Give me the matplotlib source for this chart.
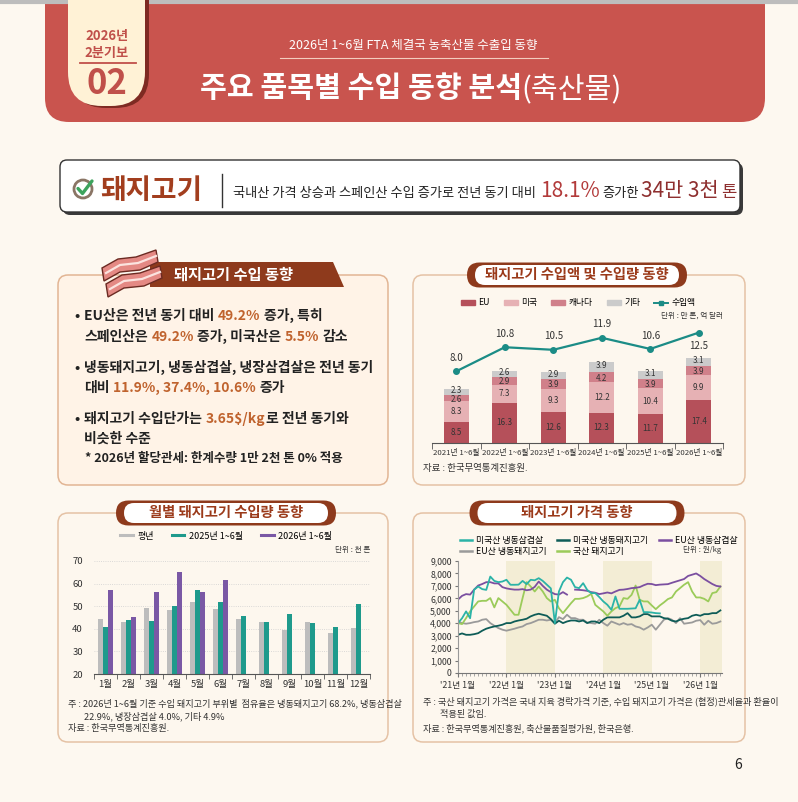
import matplotlib

matplotlib.use("Agg")

import matplotlib.pyplot as plt  # noqa: E402
import numpy as np  # noqa: E402
from matplotlib.lines import Line2D  # noqa: E402
from matplotlib.patches import Circle, FancyBboxPatch, Patch, Polygon  # noqa: E402

plt.rcParams["font.family"] = ["Noto Sans CJK KR", "DejaVu Sans"]

# ---------------------------------------------------------------------------
# Data
# ---------------------------------------------------------------------------
PERIODS = ["2021년 1~6월", "2022년 1~6월", "2023년 1~6월",
           "2024년 1~6월", "2025년 1~6월", "2026년 1~6월"]
VOL_EU = [8.5, 16.3, 12.6, 12.3, 11.7, 17.4]
VOL_US = [8.3, 7.3, 9.3, 12.2, 10.4, 9.9]
VOL_CANADA = [2.6, 2.9, 3.9, 4.2, 3.9, 3.9]
VOL_OTHER = [2.3, 2.6, 2.9, 3.9, 3.1, 3.1]
IMPORT_VALUE = [8.0, 10.8, 10.5, 11.9, 10.6, 12.5]

MONTHS = ["1월", "2월", "3월", "4월", "5월", "6월",
          "7월", "8월", "9월", "10월", "11월", "12월"]
MONTHLY_NORMAL = [44.5, 43.2, 49.3, 48.5, 52.0, 48.6, 44.4, 42.8, 39.4, 42.8, 38.0, 40.3]
MONTHLY_2025 = [41.0, 44.0, 43.5, 50.3, 57.3, 52.0, 45.6, 43.0, 46.5, 42.5, 40.7, 51.0]
MONTHLY_2026 = [57.0, 45.0, 56.5, 65.0, 56.5, 61.5]

PRICE_YEAR_LABELS = ["'21년 1월", "'22년 1월", "'23년 1월", "'24년 1월", "'25년 1월", "'26년 1월"]
NAN = np.nan
# monthly prices, Jan 2021 .. Jun 2026 (won/kg)
PRICE_US_BELLY = [
    4010, 4400, 4950, 4400, 6700, 6950, 6740, 6680, 7750, 7400, 7300, 7350,
    7490, 7090, 7090, 7100, 7400, 7140, 7490, 7450, 7620, 7400, 7100, 6800,
    4000, 6550, 7300, 7670, 7490, 6900, 6820, 7220, 6680, 6420, 6420, 6100,
    5750, 5480, 5080, 6150, 5160, 5160, 5160, 5180, 5200, 5880, 4890, 4890,
    4860, 4810, 4790, NAN, NAN, NAN, NAN, NAN, NAN, NAN, NAN, NAN,
    NAN, NAN, NAN, NAN, NAN, NAN,
]
PRICE_US_PORK = [
    3070, 3180, 3070, 3070, 3120, 3200, 3400, 3560, 3660, 3740, 3800, 3880,
    4010, 4010, 4140, 4220, 4280, 4360, 4550, 4680, 4760, 4680, 4600, 4330,
    3960, 4200, 4010, 4140, 4220, 4220, 4140, 4220, 4010, 4140, 4140, 4010,
    4280, 4470, 4470, 4470, 4470, 4600, 4810, 4470, 4470, 4550, 4730, 4730,
    4550, 4550, 4550, 4410, 4360, 4200, 4140, 4280, 4360, 4410, 4600, 4680,
    4600, 4730, 4730, 4810, 4810, 5030,
]
PRICE_EU_BELLY = [
    5900, 6200, 6340, 6300, 6700, 7030, 7150, 7300, 7300, 7200, 7200, 6900,
    6800, 6740, 6700, 6700, 6740, 6650, 6700, 6920, 7350, 7000, 6700, 6500,
    6340, 6300, 6500, 6300, NAN, 6700, 6680, 6650, 6600, 6500, 6450, 6340,
    6400, 6470, 6400, 6550, 6680, 6700, 6750, 6820, 6850, 6900, 7050, 7170,
    7150, 7060, 7100, 7120, 7140, 7250, 7350, 7450, 7550, 7800, 7900, 8000,
    7800, 7550, 7350, 7150, 7000, 6950,
]
PRICE_EU_PORK = [
    4140, 4010, 3960, 4010, 4090, 4140, 4280, 4330, 4010, 3800, 3610, 3480,
    3400, 3480, 3560, 3660, 3740, 3930, 4010, 4140, 4280, 4280, 4220, 4280,
    4010, 4490, 4330, 4680, 4410, 4410, 4280, 4280, 4060, 4010, 3960, 4280,
    4010, 3800, 4140, 4010, 3880, 4010, 3880, 3930, 3740, 3660, 3480, 3660,
    3880, 3480, 3880, 4280, 4410, 4280, 4010, 4410, 3960, 4010, 4060, 4200,
    4250, 3880, 4200, 3960, 4010, 4140,
]
PRICE_DOMESTIC = [
    4010, 3930, 4410, 4950, 5350, 5750, 5800, 5800, 6020, 5270, 6020, 5750,
    5480, 5080, 4680, 4680, 6020, 7300, 6950, 6550, 6950, 6550, 6020, 5750,
    5880, 5210, 4810, 5210, 5610, 5960, 5960, 6020, 6150, 6360, 5480, 5210,
    4950, 4600, 4950, 5210, 5350, 6020, 5960, 6280, 7030, 5880, 5750, 5750,
    5430, 5130, 5430, 5670, 5940, 6070, 6550, 6820, 7090, 7300, 6550, 6070,
    6070, 5960, 5750, 6420, 6500, 6950,
]

# ---------------------------------------------------------------------------
# Style
# ---------------------------------------------------------------------------
W, H = 798, 802
PAGE_BG = "#FDF8F0"
HEADER_RED = "#C9544E"
BROWN = "#8E3A1C"
TITLE_BROWN = "#9B3A1A"
HIGHLIGHT = "#C0632E"
DARK = "#222222"
TICK = "#333333"

COL_EU = "#B5505A"
COL_US = "#E6B1B4"
COL_CA = "#D0808A"
COL_OTHER = "#CBCBCB"
COL_VALUE = "#1B8C86"

COL_NORMAL = "#BDBDBD"
COL_2025 = "#1E9A8C"
COL_2026 = "#7A58A5"

COL_US_BELLY = "#2BB3A7"
COL_US_PORK = "#0E5C57"
COL_EU_BELLY = "#7B4FA0"
COL_EU_PORK = "#9A9A9A"
COL_DOMESTIC = "#9BCB5A"
BAND = "#F3EDD5"


def px_axes(fig, left, top, right, bottom):
    ax = fig.add_axes([left / W, 1 - bottom / H, (right - left) / W, (bottom - top) / H])
    ax.set_facecolor("none")
    return ax


def draw_runs(ax, x, y, runs, renderer, ha="left", va="baseline"):
    texts = []
    cursor = x
    last_gap = 0
    for text, gap, style in runs:
        t = ax.text(cursor, y, text, ha="left", va=va, **style)
        width = t.get_window_extent(renderer=renderer).width
        texts.append(t)
        cursor += width + gap
        last_gap = gap
    if ha == "center":
        shift = (cursor - last_gap - x) / 2
        for t in texts:
            tx, ty = t.get_position()
            t.set_position((tx - shift, ty))
    return cursor


def panel(ax, x, y, w, h, fc, ec):
    ax.add_patch(FancyBboxPatch((x, y), w, h, boxstyle="round,pad=0,rounding_size=10",
                                fc=fc, ec=ec, lw=1.1, zorder=1))


def pill_title(ax, cx, cy, w, text):
    ax.add_patch(FancyBboxPatch((cx - w / 2 - 4, cy - 12.5), w + 8, 25,
                                boxstyle="round,pad=0,rounding_size=12.5",
                                fc=BROWN, ec="none", zorder=3))
    ax.add_patch(FancyBboxPatch((cx - w / 2 + 4, cy - 10), w - 8, 20,
                                boxstyle="round,pad=0,rounding_size=10",
                                fc="white", ec="none", zorder=4))
    ax.text(cx, cy, text, ha="center", va="center", fontsize=10.3,
            fontweight="bold", color=TITLE_BROWN, zorder=5)


def main():
    fig = plt.figure(figsize=(W / 100, H / 100), dpi=100)
    fig.patch.set_facecolor(PAGE_BG)
    renderer = fig.canvas.get_renderer()

    bg = fig.add_axes([0, 0, 1, 1])
    bg.set_xlim(0, W)
    bg.set_ylim(H, 0)
    bg.axis("off")

    # --- header ---------------------------------------------------------------
    bg.add_patch(FancyBboxPatch((45, -40), 720, 162, boxstyle="round,pad=0,rounding_size=24",
                                fc=HEADER_RED, ec="none", zorder=1))
    bg.plot([0, W], [1.5, 1.5], color="#BDBDBD", lw=3, zorder=2)
    bg.add_patch(FancyBboxPatch((72, -40), 77, 148, boxstyle="round,pad=0,rounding_size=34",
                                fc="#7E2A22", ec="none", zorder=2))
    bg.add_patch(FancyBboxPatch((68, -40), 77, 146, boxstyle="round,pad=0,rounding_size=34",
                                fc="#FFF2D6", ec="none", zorder=3))
    bg.text(107, 36, "2026년", ha="center", va="center", fontsize=9.5,
            fontweight="bold", color="#C0504A", zorder=4)
    bg.text(107, 53, "2분기보", ha="center", va="center", fontsize=9.5,
            fontweight="bold", color="#C0504A", zorder=4)
    bg.plot([80, 136], [63, 63], color="#C0504A", lw=1.3, zorder=4)
    bg.text(107, 84, "02", ha="center", va="center", fontsize=25,
            fontweight="bold", color="#C0504A", zorder=4)

    bg.text(413, 45, "2026년 1~6월 FTA 체결국 농축산물 수출입 동향", ha="center",
            va="center", fontsize=9, color="white", zorder=4)
    bg.plot([280, 548], [58, 58], color="#F4CDBE", lw=0.8, zorder=4)
    draw_runs(bg, 411, 97, [
        ("주요 품목별 수입 동향 분석", 0,
         dict(fontsize=21, fontweight="bold", color="white", zorder=4)),
        ("(축산물)", 0, dict(fontsize=21, color="white", zorder=4)),
    ], renderer, ha="center")

    # --- headline box -----------------------------------------------------------
    bg.add_patch(FancyBboxPatch((63, 163), 680, 52, boxstyle="round,pad=0,rounding_size=7",
                                fc="#3A3A3A", ec="none", zorder=1))
    bg.add_patch(FancyBboxPatch((60, 160), 680, 52, boxstyle="round,pad=0,rounding_size=7",
                                fc="white", ec="#333333", lw=1, zorder=2))
    bg.add_patch(Circle((83, 189), 9, fill=False, ec="#8A7565", lw=2, zorder=3))
    bg.plot([78, 82.5, 92], [188.5, 193.5, 181], color="#3DA35D", lw=2.4,
            solid_capstyle="round", zorder=4)
    bg.text(100, 199, "돼지고기", ha="left", va="baseline", fontsize=20,
            fontweight="bold", color="#A23E1E", zorder=4)
    bg.plot([222, 222], [174, 207], color="#333333", lw=1, zorder=4)
    plain = dict(fontsize=9.5, color=DARK, zorder=4)
    draw_runs(bg, 233, 197, [
        ("국내산 가격 상승과 스페인산 수입 증가로 전년 동기 대비", 4, plain),
        ("18.1%", 3, dict(fontsize=15, color="#B23A3A", zorder=4)),
        ("증가한", 2, plain),
        ("34만 3천", 3, dict(fontsize=15, color="#8E2F2F", zorder=4)),
        ("톤", 0, dict(fontsize=12, color="#8E2F2F", zorder=4)),
    ], renderer)

    # --- panels ---------------------------------------------------------------
    panel(bg, 58, 275, 330, 210, "#FFF3E7", "#E2B594")
    panel(bg, 413, 275, 332, 210, "#FDF7EE", "#E5C2A5")
    panel(bg, 58, 513, 330, 229, "#FDF7EE", "#E5C2A5")
    panel(bg, 413, 513, 332, 229, "#FDF7EE", "#E5C2A5")

    # left panel ribbon + bacon icon
    bg.add_patch(Polygon([(150, 262), (333, 262), (344, 287), (150, 287)],
                         closed=True, fc=BROWN, ec="none", zorder=3))
    bg.text(234, 275, "돼지고기 수입 동향", ha="center", va="center", fontsize=11,
            fontweight="bold", color="white", zorder=5)
    for dx, dy in [(4, 16), (0, 0)]:
        bg.add_patch(Polygon([(102 + dx, 268 + dy), (118 + dx, 259 + dy), (136 + dx, 257 + dy),
                              (156 + dx, 250 + dy), (158 + dx, 262 + dy), (140 + dx, 270 + dy),
                              (120 + dx, 272 + dy), (104 + dx, 281 + dy)],
                             closed=True, fc="#E48984", ec="#6B2A22", lw=1, zorder=4))
        bg.plot([106 + dx, 120 + dx, 138 + dx, 156 + dx],
                [273 + dy, 265 + dy, 263 + dy, 256 + dy], color="#FBE3DF", lw=1.6, zorder=5)

    dark = dict(fontsize=10, fontweight="bold", color=DARK, zorder=5)
    hl = dict(fontsize=10, fontweight="bold", color=HIGHLIGHT, zorder=5)
    bullet_lines = [
        (320, True, [("EU산은 전년 동기 대비", 3.5, dark), ("49.2%", 3.5, hl), ("증가, 특히", 0, dark)]),
        (341, False, [("스페인산은", 3.5, dark), ("49.2%", 3.5, hl), ("증가, 미국산은", 3.5, dark),
                      ("5.5%", 3.5, hl), ("감소", 0, dark)]),
        (372, True, [("냉동돼지고기, 냉동삼겹살, 냉장삼겹살은 전년 동기", 0, dark)]),
        (392, False, [("대비", 3.5, dark), ("11.9%, 37.4%, 10.6%", 3.5, hl), ("증가", 0, dark)]),
        (423, True, [("돼지고기 수입단가는", 3.5, dark), ("3.65$/kg", 0.5, hl), ("로 전년 동기와", 0, dark)]),
        (443, False, [("비슷한 수준", 0, dark)]),
    ]
    for y, has_bullet, runs in bullet_lines:
        if has_bullet:
            bg.text(77, y, "•", ha="center", va="baseline", fontsize=10,
                    fontweight="bold", color=DARK, zorder=5)
        draw_runs(bg, 84, y, runs, renderer)
    bg.text(85, 462, "* 2026년 할당관세: 한계수량 1만 2천 톤 0% 적용", ha="left",
            va="baseline", fontsize=9, fontweight="bold", color=DARK, zorder=5)

    pill_title(bg, 577, 275, 212, "돼지고기 수입액 및 수입량 동향")
    pill_title(bg, 226, 513, 212, "월별 돼지고기 수입량 동향")
    pill_title(bg, 577, 513, 207, "돼지고기 가격 동향")

    # --- chart 1: stacked volume + import value ---------------------------------
    ax1 = px_axes(fig, 432, 318, 723, 443)
    x = np.arange(len(PERIODS))
    bottom = np.zeros(len(PERIODS))
    # small nudge keeps the two thin top labels apart
    for vals, color, nudge in [(VOL_EU, COL_EU, 0), (VOL_US, COL_US, 0),
                               (VOL_CANADA, COL_CA, -0.4), (VOL_OTHER, COL_OTHER, 0.55)]:
        vals = np.array(vals)
        ax1.bar(x, vals, 0.52, bottom=bottom, color=color, zorder=2)
        for xi, v, b in zip(x, vals, bottom):
            ax1.text(xi, b + v / 2 + nudge, f"{v:.1f}", ha="center", va="center",
                     fontsize=5.8, color=TICK, zorder=3)
        bottom += vals
    ax1.set_xlim(-0.5, len(PERIODS) - 0.5)
    ax1.set_ylim(0, 50.5)
    ax1.set_xticks(x)
    ax1.set_xticklabels(PERIODS, fontsize=5.6, color=TICK)
    ax1.set_xticks(np.arange(-0.5, len(PERIODS)), minor=True)
    ax1.tick_params(axis="x", which="major", length=0, pad=4)
    ax1.tick_params(axis="x", which="minor", length=4, color="#555555")
    ax1.set_yticks([])
    for side in ["left", "right", "top"]:
        ax1.spines[side].set_visible(False)
    ax1.spines["bottom"].set_color("#555555")

    ax1b = ax1.twinx()
    ax1b.plot(x, IMPORT_VALUE, color=COL_VALUE, lw=1.6, marker="o", ms=4, zorder=4)
    for i, v in enumerate(IMPORT_VALUE):
        below = i == len(IMPORT_VALUE) - 1
        ax1b.annotate(f"{v:.1f}", (x[i], v), xytext=(0, -6 if below else 6),
                      textcoords="offset points", ha="center",
                      va="top" if below else "bottom", fontsize=7, color=TICK)
    ax1b.set_ylim(-0.34, 14.2)
    ax1b.set_yticks([])
    for side in ["left", "right", "top", "bottom"]:
        ax1b.spines[side].set_visible(False)

    handles1 = [Patch(color=COL_EU), Patch(color=COL_US), Patch(color=COL_CA),
                Patch(color=COL_OTHER),
                Line2D([], [], color=COL_VALUE, lw=1.4, marker="s", ms=3.5)]
    fig.legend(handles1, ["EU", "미국", "캐나다", "기타", "수입액"], loc="center",
               bbox_to_anchor=(578 / W, 1 - 303 / H), ncol=5, frameon=False,
               fontsize=6.3, handlelength=1.6, handleheight=0.5, columnspacing=1.6,
               handletextpad=0.4)
    bg.text(723, 316, "단위 : 만 톤, 억 달러", ha="right", va="center", fontsize=5.5,
            color=TICK, zorder=5)
    bg.text(423, 469, "자료 : 한국무역통계진흥원.", ha="left", va="center", fontsize=6.8,
            color=TICK, zorder=5)

    # --- chart 2: monthly volume ------------------------------------------------
    ax2 = px_axes(fig, 94, 561, 370, 674)
    xm = np.arange(len(MONTHS))
    bw = 0.23
    ax2.bar(xm - bw, MONTHLY_NORMAL, bw, color=COL_NORMAL, zorder=2)
    ax2.bar(xm, MONTHLY_2025, bw, color=COL_2025, zorder=2)
    ax2.bar(xm[:len(MONTHLY_2026)] + bw, MONTHLY_2026, bw, color=COL_2026, zorder=2)
    ax2.set_xlim(-0.5, len(MONTHS) - 0.5)
    ax2.set_ylim(20, 70)
    ax2.set_yticks(range(20, 71, 10))
    ax2.set_xticks(xm)
    ax2.set_xticklabels(MONTHS, fontsize=6.8, color=TICK)
    ax2.set_xticks(np.arange(-0.5, len(MONTHS)), minor=True)
    ax2.tick_params(axis="x", which="major", length=0, pad=4)
    ax2.tick_params(axis="x", which="minor", length=3.5, color="#555555")
    ax2.tick_params(axis="y", length=0, labelsize=6.8, labelcolor=TICK, pad=8)
    ax2.yaxis.grid(True, linestyle=":", color="#CFCFCF", lw=0.6, zorder=0)
    for side in ["left", "right", "top"]:
        ax2.spines[side].set_visible(False)
    ax2.spines["bottom"].set_color("#555555")

    handles2 = [Line2D([], [], color=c, lw=2.2) for c in (COL_NORMAL, COL_2025, COL_2026)]
    fig.legend(handles2, ["평년", "2025년 1~6월", "2026년 1~6월"], loc="center",
               bbox_to_anchor=(226 / W, 1 - 536 / H), ncol=3, frameon=False,
               fontsize=6.5, handlelength=1.4, columnspacing=2.0, handletextpad=0.5)
    bg.text(370, 550, "단위 : 천 톤", ha="right", va="center", fontsize=5.5,
            color=TICK, zorder=5)
    note2 = dict(fontsize=6.6, color=TICK, zorder=5, ha="left", va="center")
    bg.text(68, 703, "주 : 2026년 1~6월 기준 수입 돼지고기 부위별  점유율은 냉동돼지고기 68.2%, 냉동삼겹살",
            **note2)
    bg.text(84, 716, "22.9%, 냉장삼겹살 4.0%, 기타 4.9%", **note2)
    bg.text(68, 729, "자료 : 한국무역통계진흥원.", **note2)

    # --- chart 3: prices ----------------------------------------------------------
    ax3 = px_axes(fig, 458, 561, 722, 673)
    months = np.arange(len(PRICE_DOMESTIC))
    for start, end in [(12, 24), (36, 48), (60, 65.4)]:
        ax3.axvspan(start, end, color=BAND, lw=0, zorder=0)
    series = [
        (PRICE_EU_PORK, COL_EU_PORK),
        (PRICE_US_PORK, COL_US_PORK),
        (PRICE_DOMESTIC, COL_DOMESTIC),
        (PRICE_EU_BELLY, COL_EU_BELLY),
        (PRICE_US_BELLY, COL_US_BELLY),
    ]
    for vals, color in series:
        ax3.plot(months, np.array(vals, dtype=float), color=color, lw=1.3, zorder=2)
    ax3.set_xlim(0, 65.4)
    ax3.set_ylim(0, 9000)
    ax3.set_yticks(range(0, 9001, 1000))
    ax3.set_yticklabels([f"{v:,}" for v in range(0, 9001, 1000)], fontsize=6.3, color=TICK)
    ax3.set_xticks(np.arange(0, 61, 12))
    ax3.set_xticklabels(PRICE_YEAR_LABELS, fontsize=6.3, color=TICK)
    ax3.set_xticks(months, minor=True)
    ax3.tick_params(axis="x", which="major", length=3, color="#777777", pad=3)
    ax3.tick_params(axis="x", which="minor", length=2, color="#999999")
    ax3.tick_params(axis="y", length=2.5, color="#777777", pad=2)
    for side in ["right", "top"]:
        ax3.spines[side].set_visible(False)
    ax3.spines["left"].set_color("#999999")
    ax3.spines["bottom"].set_color("#777777")

    labels3 = ["미국산 냉동삼겹살", "EU산 냉동돼지고기", "미국산 냉동돼지고기",
               "국산 돼지고기", "EU산 냉동삼겹살"]
    colors3 = [COL_US_BELLY, COL_EU_PORK, COL_US_PORK, COL_DOMESTIC, COL_EU_BELLY]
    handles3 = [Line2D([], [], color=c, lw=1.8) for c in colors3]
    fig.legend(handles3, labels3, loc="upper left",
               bbox_to_anchor=(452 / W, 1 - 528 / H), ncol=3, frameon=False,
               fontsize=6.4, handlelength=1.3, columnspacing=1.2, handletextpad=0.5,
               labelspacing=0.25)
    bg.text(721, 550, "단위 : 원/kg", ha="right", va="center", fontsize=5.5,
            color=TICK, zorder=5)
    note3 = dict(fontsize=6.6, color=TICK, zorder=5, ha="left", va="center")
    bg.text(423, 701, "주 : 국산 돼지고기 가격은 국내 지육 경락가격 기준, 수입 돼지고기 가격은 (협정)관세율과 환율이",
            **note3)
    bg.text(440, 714, "적용된 값임.", **note3)
    bg.text(423, 728, "자료 : 한국무역통계진흥원, 축산물품질평가원, 한국은행.", **note3)

    # page number
    bg.text(738, 765, "6", ha="center", va="center", fontsize=10, color=DARK)

    fig.savefig("out.png", dpi=100, facecolor=PAGE_BG)
    plt.close(fig)


if __name__ == "__main__":
    main()
